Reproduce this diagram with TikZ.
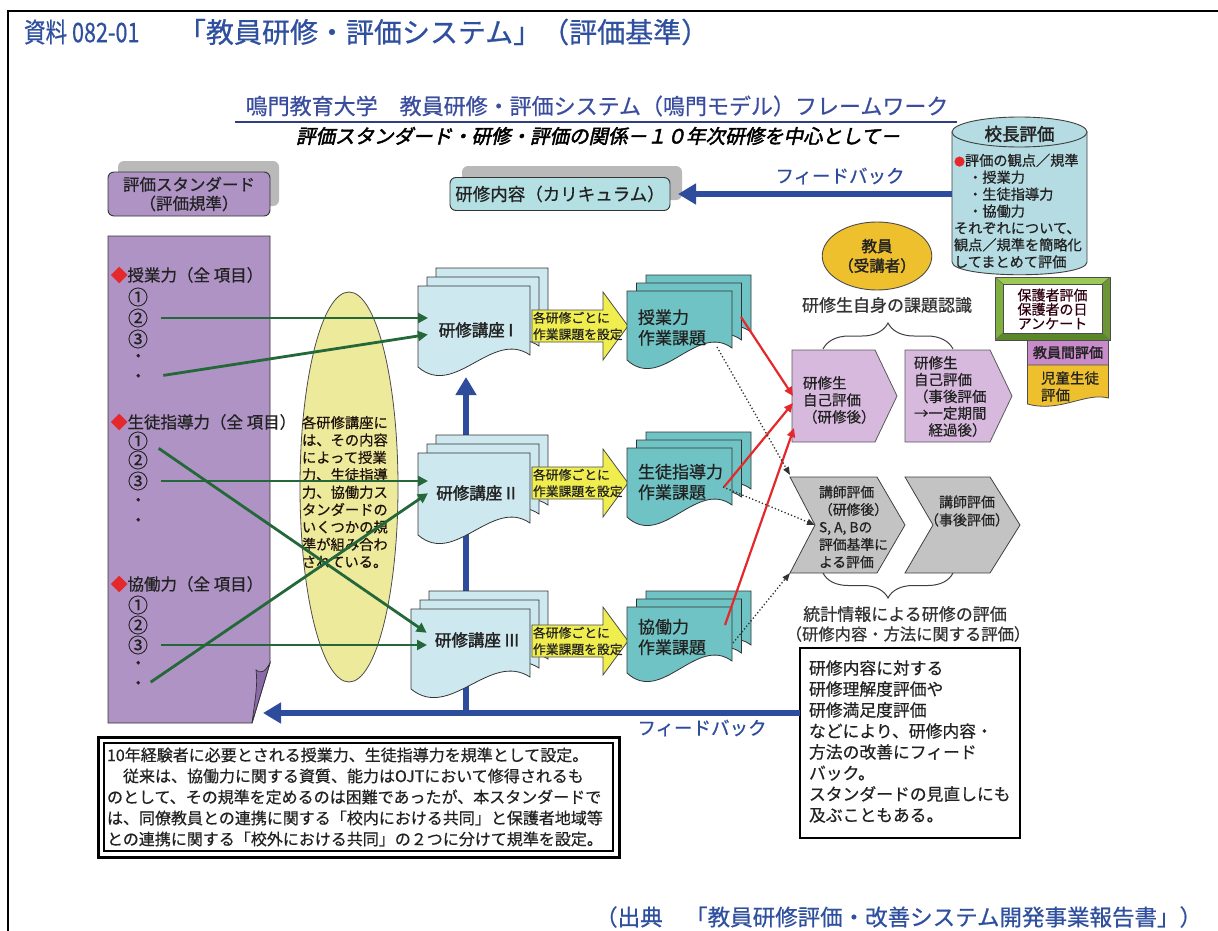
\documentclass[tikz,border=0pt]{standalone}
\usepackage{fontspec}
\setmainfont{Noto Sans CJK JP}[FakeBold=0.6]
\newfontfamily\jpb{Noto Sans CJK JP}[FakeBold=2]
\newfontfamily\jpi{Noto Sans CJK JP}[FakeSlant=0.22,FakeBold=2.4]
\usetikzlibrary{arrows.meta,shapes.geometric,decorations.pathreplacing}
\definecolor{tblue}{HTML}{2F4F9F}
\definecolor{fbblue}{HTML}{2D4C9C}
\definecolor{sblue}{HTML}{3A4D9E}
\definecolor{lpurp}{HTML}{AE93C4}
\definecolor{dpurp}{HTML}{8A6AA8}
\definecolor{kcyan}{HTML}{B4DFE3}
\definecolor{cylc}{HTML}{B5DCE2}
\definecolor{ellc}{HTML}{EEEA9C}
\definecolor{docc}{HTML}{CDE8EF}
\definecolor{tealc}{HTML}{6FC3C4}
\definecolor{yarr}{HTML}{F0EE4E}
\definecolor{dgreen}{HTML}{24683A}
\definecolor{redl}{HTML}{E5282C}
\definecolor{pent}{HTML}{D6B9DD}
\definecolor{chev}{HTML}{C3C3C3}
\definecolor{gold}{HTML}{EFC02E}
\definecolor{orch}{HTML}{C98CCB}
\definecolor{gfr}{HTML}{7FAF3E}
\definecolor{gfrl}{HTML}{9CC955}
\definecolor{gfrd}{HTML}{5A8828}
\definecolor{shad}{HTML}{B9B9B9}
\definecolor{txt}{HTML}{222222}
\newcommand\fs[2]{\fontsize{#1}{#2}\selectfont}
\newcommand\docp[4]{({#1},{#2}) -- ({#1+#3},{#2}) -- ({#1+#3},{#2+#4-12}) .. controls ({#1+0.66*#3},{#2+#4-38}) and ({#1+0.33*#3},{#2+#4+32}) .. ({#1},{#2+#4}) -- cycle}
\newcommand\stackdoc[7]{%
  \filldraw[#5] \docp{#1+2*#6}{#2-2*#7}{#3}{#4};
  \filldraw[#5] \docp{#1+#6}{#2-#7}{#3}{#4};
  \filldraw[#5] \docp{#1}{#2}{#3}{#4};}
\newcommand\yarrow[1]{%
  \filldraw[yar] (532,{#1-16}) -- (603,{#1-16}) -- (603,{#1-34}) -- (628,#1) -- (603,{#1+34}) -- (603,{#1+16}) -- (532,{#1+16}) -- cycle;}
\begin{document}
\begin{tikzpicture}[x=1pt,y=-1pt,
  every node/.style={inner sep=0pt,outer sep=0pt,text=txt},
  fb/.style={draw=fbblue,line width=5.5pt,-{Triangle[length=18pt,width=20pt]}},
  gr/.style={draw=dgreen,line width=2.8pt,-{Triangle[length=10pt,width=10pt]}},
  rd/.style={draw=redl,line width=2.2pt,-{Triangle[length=9pt,width=8pt]}},
  dt/.style={draw=black!80,line width=1.3pt,dash pattern=on 1.3pt off 2.2pt,-{Triangle[length=8pt,width=6pt]}},
  kdoc/.style={fill=docc,draw=black!80,line width=0.8pt},
  tdoc/.style={fill=tealc,draw=black!80,line width=0.8pt},
  yar/.style={fill=yarr,draw=black!70,line width=0.8pt},
  pentst/.style={fill=pent,draw=black!65,line width=0.8pt},
  chevst/.style={fill=chev,draw=black!75,line width=0.8pt},
  brc/.style={decorate,draw=black!75,line width=1pt},
  li/.style={anchor=west,font=\fs{16.5}{18}},
  cn/.style={anchor=west,font=\fs{20}{20}},
  ghost/.style={inner sep=0pt,outer sep=0pt}]
\useasboundingbox (0,0) rectangle (1218,931);
\fill[white] (0,0) rectangle (1218,931);
% frame
\draw[line width=2pt] (8,931) -- (8,11) -- (1218,11);
% titles
\node[anchor=west,font=\fs{27}{29},text=tblue] (t1) at (24,32) {\scalebox{0.8}[1]{資料 082-01}};
\node[anchor=west,font=\fs{28}{30},text=tblue] (t2) at (178,32) {「教員研修・評価システム」（評価基準）};
\node[font=\fs{22}{24},text=sblue] (st) at (597,106) {鳴門教育大学\hspace{1em}教員研修・評価システム（鳴門モデル）フレームワーク};
\draw[draw=sblue!80!black,line width=1.5pt] (235,122) -- (957,122);
\node[font=\jpi\fs{19.5}{22},text=black] (st2) at (598,136) {評価スタンダード・研修・評価の関係－１０年次研修を中心として－};
% standard label
\fill[shad,rounded corners=6pt] (118,161) rectangle (279,206);
\node[draw=black!80,line width=0.9pt,fill=lpurp,rounded corners=6pt,minimum width=162pt,minimum height=44pt,align=center,font=\fs{16.5}{19}] (std) at (189,194) {評価スタンダード\\（評価規準）};
% curriculum
\fill[shad,rounded corners=6pt] (462,166) rectangle (682,200);
\node[draw=black!80,line width=0.9pt,fill=kcyan,rounded corners=6pt,minimum width=220pt,minimum height=33pt,font=\fs{17.5}{19}] (kari) at (560,194) {研修内容（カリキュラム）};
% cylinder
\filldraw[fill=cylc,draw=black!75,line width=0.9pt] (952,132) -- (952,262) .. controls (952,279) and (1087,279) .. (1087,262) -- (1087,132) -- cycle;
\filldraw[fill=cylc,draw=black!75,line width=0.9pt] (1019.5,132) ellipse [x radius=67.5,y radius=15];
\node[ghost,minimum width=135pt,minimum height=160pt] (cyl) at (1019.5,196) {};
\node[font=\jpb\fs{17.5}{19}] (cylt) at (1019.5,134) {校長評価};
\node[anchor=west,align=left,font=\fs{14.2}{16.9}] (cylb) at (954,211) {{\color{redl}\fs{11}{11}●}評価の観点／規準\\　・授業力\\　・生徒指導力\\　・協働力\\それぞれについて、\\観点／規準を簡略化\\してまとめて評価};
\draw[fb] (cyl.west |- kari.east) -- ([xshift=8pt]kari.east);
\node[font=\fs{18.5}{20},text=fbblue] (fb1) at (840,176) {フィードバック};
% purple standards
\filldraw[fill=lpurp,draw=black!80,line width=0.9pt] (108,236) -- (270,236) -- (270,663) -- (252,723) -- (108,723) -- cycle;
\filldraw[fill=dpurp,draw=black!80,line width=0.7pt] (270,663) -- (252,723) .. controls (255,700) and (258,684) .. (256,670) .. controls (261,674) and (265,672) .. (270,663) -- cycle;
\node[li] (ah) at (111,275) {{\color{redl}◆}授業力（全 項目）};
\node[cn] (a1) at (128,297) {①};
\node[cn] (a2) at (128,318) {②};
\node[cn] (a3) at (128,339) {③};
\node[li] (a4) at (130,358) {・};
\node[li] (a5) at (130,378) {・};
\node[li] (bh) at (111,422) {{\color{redl}◆}生徒指導力（全 項目）};
\node[cn] (b1) at (128,441) {①};
\node[cn] (b2) at (128,460) {②};
\node[cn] (b3) at (128,481) {③};
\node[li] (b4) at (130,502) {・};
\node[li] (b5) at (130,522) {・};
\node[li] (ch) at (111,584) {{\color{redl}◆}協働力（全 項目）};
\node[cn] (c1n) at (128,605) {①};
\node[cn] (c2n) at (128,625) {②};
\node[cn] (c3n) at (128,645) {③};
\node[li] (c4n) at (130,665) {・};
\node[li] (c5n) at (130,685) {・};
% ellipse
\node[ellipse,draw=black!70,line width=0.8pt,fill=ellc,minimum width=98pt,minimum height=390pt] (ell) at (349,487) {};
\node[anchor=west,align=left,font=\fs{14.3}{17.4},text=black!85!brown] (ellt) at (302,492) {各研修講座に\\は、その内容\\によって授業\\力、生徒指導\\力、協働力ス\\タンダードの\\いくつかの規\\準が組み合わ\\されている。};
% right text box (drawn early)
\node[draw=black,line width=1.2pt,fill=white,minimum width=220pt,minimum height=190pt] (rbox) at (910,743) {};
\node[anchor=west,align=left,font=\fs{16.8}{21}] (rboxt) at (809,741.5) {研修内容に対する\\研修理解度評価や\\研修満足度評価\\などにより、研修内容・\\方法の改善にフィード\\バック。\\スタンダードの見直しにも\\及ぶこともある。};
% feedback bottom + vertical
\coordinate (fbj) at (466,713);
\coordinate (fbt) at (263,713);
\coordinate (k1b) at (466,377);
\draw[fb] (rbox.west |- fbj) -- (fbt);
\draw[fb] (fbj) -- (k1b);
\node[font=\fs{18.5}{20},text=fbblue] (fb2) at (702,728) {フィードバック};
% course documents
\stackdoc{418}{286}{112}{81}{kdoc}{9}{9}
\stackdoc{418}{453}{112}{82}{kdoc}{9}{9}
\stackdoc{411}{609}{119}{80}{kdoc}{9}{9}
\node[ghost,minimum width=112pt,minimum height=81pt] (k1) at (474,326.5) {};
\node[ghost,minimum width=112pt,minimum height=82pt] (k2) at (474,494) {};
\node[ghost,minimum width=119pt,minimum height=80pt] (k3) at (470.5,649) {};
\node[font=\jpb\fs{16.5}{18}] (k1t) at (476,330) {研修講座 I};
\node[font=\jpb\fs{16.5}{18}] (k2t) at (476,493) {研修講座 II};
\node[font=\jpb\fs{16.5}{18}] (k3t) at (477,640) {研修講座 III};
% green arrows
\draw[gr,shorten <=13pt,shorten >=-10pt] (a2.east) -- (a2.east -| k1.west);
\draw[gr,shorten <=17pt,shorten >=-10pt] (a5.east) -- ([yshift=-9.5pt]k1.west);
\draw[gr,shorten <=13pt,shorten >=-19pt] (b1.east) -- ([yshift=27pt]k3.west);
\draw[gr,shorten <=13pt,shorten >=-10pt] (b3.east) -- (b3.east -| k2.west);
\draw[gr,shorten <=13pt,shorten >=-16pt] (c3n.east) -- (c3n.east -| k3.west);
\draw[gr,shorten <=5pt,shorten >=-12pt] (c5n.east) -- ([yshift=-6pt]k2.west);
% yellow arrows
\yarrow{326}
\yarrow{483}
\yarrow{641}
\node[anchor=west,align=left,font=\fs{12.8}{16.5}] (y1) at (533,326) {各研修ごとに\\作業課題を設定};
\node[anchor=west,align=left,font=\fs{12.8}{16.5}] (y2) at (533,483) {各研修ごとに\\作業課題を設定};
\node[anchor=west,align=left,font=\fs{12.8}{16.5}] (y3) at (533,641) {各研修ごとに\\作業課題を設定};
% teal task documents
\stackdoc{627}{291}{105}{69}{tdoc}{9.5}{8}
\stackdoc{627}{448}{105}{69}{tdoc}{9.5}{8}
\stackdoc{627}{607}{105}{66}{tdoc}{9.5}{8}
\node[ghost,minimum width=105pt,minimum height=69pt] (w1) at (679.5,325.5) {};
\node[ghost,minimum width=105pt,minimum height=69pt] (w2) at (679.5,482.5) {};
\node[ghost,minimum width=105pt,minimum height=66pt] (w3) at (679.5,640) {};
\node[anchor=west,align=left,font=\fs{17}{20.5}] (w1t) at (638,327.5) {授業力\\作業課題};
\node[anchor=west,align=left,font=\fs{17}{20.5}] (w2t) at (638,482) {生徒指導力\\作業課題};
\node[anchor=west,align=left,font=\fs{17}{20.5}] (w3t) at (638,637) {協働力\\作業課題};
% teacher ellipse
\node[ellipse,draw=black!70,line width=0.9pt,fill=gold,minimum width=91pt,minimum height=68pt,align=center,font=\jpb\fs{15.5}{19.5}] (kyo) at (877,256) {教員\\（受講者）};
\node[font=\fs{17}{18},text=black!80] (rec) at (887,305) {研修生自身の課題認識};
% pentagons
\filldraw[pentst] (792,350) -- (875,350) -- (897,396) -- (875,442) -- (792,442) -- cycle;
\node[ghost,minimum width=105pt,minimum height=92pt] (p1) at (844.5,396) {};
\node[anchor=west,align=left,font=\fs{14.5}{17}] (p1t) at (803,400) {研修生\\自己評価\\（研修後）};
\filldraw[pentst] (905,350) -- (990,350) -- (1012,396) -- (990,442) -- (905,442) -- cycle;
\node[ghost,minimum width=107pt,minimum height=92pt] (p2) at (958.5,396) {};
\node[anchor=west,align=left,font=\fs{14.5}{16.8}] (p2t) at (914,396.5) {研修生\\自己評価\\（事後評価\\→一定期間\\　経過後）};
\draw[brc,decoration={brace,amplitude=26pt}] (823,349) -- (953,349);
% chevrons
\filldraw[chevst] (790,477) -- (877,477) -- (905,525) -- (877,573) -- (790,573) -- (815,525) -- cycle;
\node[ghost,minimum width=115pt,minimum height=96pt] (cv1) at (847.5,525) {};
\node[anchor=west,align=left,font=\fs{13.8}{17.5}] (cv1t) at (819,527) {講師評価\\（研修後）\\S, A, Bの\\評価基準に\\よる評価};
\filldraw[chevst] (905,477) -- (990,477) -- (1020,525) -- (990,573) -- (905,573) -- (933,525) -- cycle;
\node[ghost,minimum width=115pt,minimum height=96pt] (cv2) at (962.5,525) {};
\node[align=center,font=\fs{14}{18}] (cv2t) at (967,511) {講師評価\\（事後評価）};
\draw[brc,decoration={brace,amplitude=25pt}] (953,573) -- (823,573);
\node[font=\fs{17}{18},text=black!80] (stat1) at (905,614) {統計情報による研修の評価};
\node[font=\fs{16.3}{18},text=black!80] (stat2) at (908,634) {（研修内容・方法に関する評価）};
% red arrows
\draw[rd] ([xshift=9pt,yshift=8.5pt]w1.east) -- ([xshift=1pt]p1.west);
\draw[rd] ([xshift=-8pt,yshift=-4.5pt]w2.east) -- ([xshift=1pt,yshift=-7pt]p1.west);
\draw[rd] ([xshift=-7pt,yshift=15pt]w3.east) -- ([xshift=2pt,yshift=-32pt]p1.west);
% dotted arrows
\draw[dt] ([xshift=37.5pt,yshift=-21.5pt]w1.center) -- ([yshift=2pt]cv1.north west);
\draw[dt] ([xshift=-9pt,yshift=-4.5pt]w2.east) -- ([xshift=25pt]cv1.west);
\draw[dt] ([xshift=1pt,yshift=-3pt]w3.east) -- (cv1.south west);
% parents frame
\fill[gfrl] (995,277) -- (1110,277) -- (1102,284) -- (1003,284) -- cycle;
\fill[gfr] (995,277) -- (1003,284) -- (1003,333) -- (995,340) -- cycle;
\fill[gfrd] (995,340) -- (1003,333) -- (1102,333) -- (1110,340) -- cycle;
\fill[gfr!85!black] (1110,277) -- (1110,340) -- (1102,333) -- (1102,284) -- cycle;
\draw[black!70,line width=0.8pt] (995,277) rectangle (1110,340);
\draw[black!60,line width=0.5pt] (995,277) -- (1003,284) (1110,277) -- (1102,284) (995,340) -- (1003,333) (1110,340) -- (1102,333);
\filldraw[fill=white,draw=black!70,line width=0.8pt] (1003,284) rectangle (1102,333);
\node[ghost,minimum width=115pt,minimum height=63pt] (hog) at (1052.5,308.5) {};
\node[align=center,font=\fs{14}{14.2},text=black!75!purple] (hogt) at (1052.5,309) {保護者評価\\保護者の日\\アンケート};
\node[draw=black!70,line width=0.8pt,fill=orch,minimum width=81pt,minimum height=25pt,font=\jpb\fs{14}{15}] (kkh) at (1068,352.5) {教員間評価};
\filldraw[fill=gold,draw=black!70,line width=0.8pt] (1027.5,365) -- (1108.5,365) -- (1108.5,398) .. controls (1085,392) and (1060,413) .. (1027.5,404) -- cycle;
\node[anchor=west,align=left,font=\fs{14.5}{17}] (jdt) at (1041,386.5) {児童生徒\\評価};
% note box
\draw[line width=3pt] (98,737) rectangle (619,857);
\draw[line width=1.2pt] (104,743) rectangle (613,851);
\node[ghost,minimum width=521pt,minimum height=120pt] (note) at (358.5,797) {};
\node[anchor=west,align=left,font=\fs{16}{21}] (notet) at (107,797) {10年経験者に必要とされる授業力、生徒指導力を規準として設定。\\　従来は、協働力に関する資質、能力はOJTにおいて修得されるも\\のとして、その規準を定めるのは困難であったが、本スタンダードで\\は、同僚教員との連携に関する「校内における共同」と保護者地域等\\との連携に関する「校外における共同」の２つに分けて規準を設定。};
% source
\node[anchor=east,font=\fs{22.5}{24},text=tblue] (src) at (1202,917) {（出典\hspace{1em}「教員研修評価・改善システム開発事業報告書」）};
\end{tikzpicture}
\end{document}
